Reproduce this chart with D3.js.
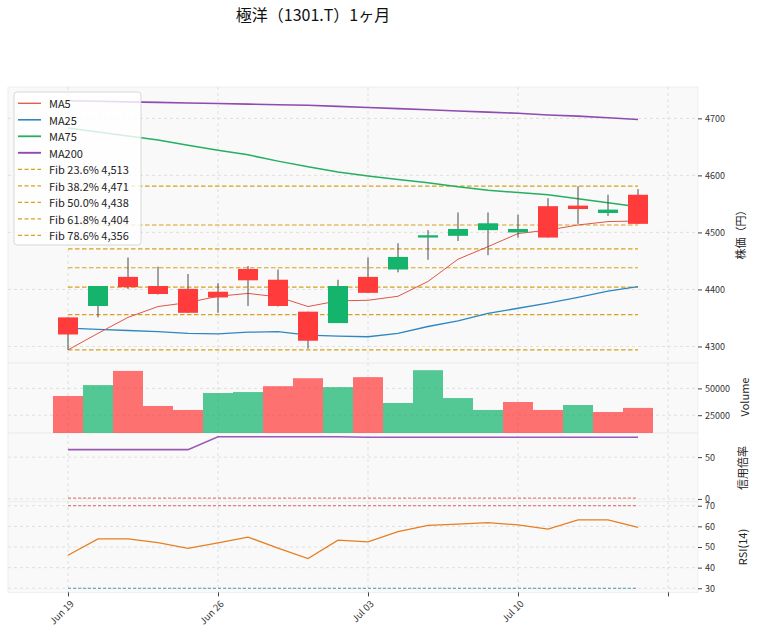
<!DOCTYPE html>
<html>
<head>
<meta charset="utf-8">
<script src="https://cdn.jsdelivr.net/npm/d3@7"></script>
<style>
  body { margin: 0; background: #fff; }
  svg { display: block; font-family: "Noto Sans CJK JP", "Noto Sans", sans-serif; }
</style>
</head>
<body>
<div id="chart"></div>
<script>
// 極洋 (1301.T) daily candles, last ~1 month
const xTickIdx = [0, 5, 10, 15, 20]
const xTickLabels = ["Jun 19", "Jun 26", "Jul 03", "Jul 10", ""]

const open  = [4351, 4371, 4422, 4406, 4401, 4396, 4436, 4417, 4361, 4341, 4422, 4435, 4491, 4494, 4504, 4500, 4546, 4547, 4534, 4566]
const high  = [4351, 4406, 4456, 4440, 4427, 4411, 4441, 4435, 4361, 4417, 4456, 4481, 4504, 4535, 4535, 4531, 4560, 4581, 4566, 4576]
const low   = [4294, 4351, 4401, 4391, 4359, 4359, 4371, 4370, 4296, 4341, 4394, 4430, 4452, 4485, 4460, 4491, 4491, 4515, 4529, 4515]
const close = [4321, 4406, 4404, 4392, 4359, 4386, 4416, 4371, 4310, 4406, 4394, 4457, 4495, 4506, 4516, 4506, 4491, 4541, 4540, 4515]

const volume = [42900, 53100, 66300, 33600, 29900, 45700, 46600, 52100, 59500, 51200, 60500, 36400, 67000, 41000, 29900, 37300, 29900, 34500, 28000, 31800]

const ma5   = [4294, 4323, 4351, 4370, 4377, 4388, 4393, 4387, 4370, 4380, 4381, 4388, 4414, 4453, 4475, 4498, 4504, 4513, 4519, 4520]
const ma25  = [4332, 4330, 4328, 4326, 4323, 4322, 4325, 4326, 4320, 4318, 4317, 4323, 4335, 4345, 4358, 4367, 4376, 4386, 4397, 4405]
const ma75  = [4683, 4676, 4669, 4662, 4653, 4644, 4636, 4625, 4615, 4606, 4599, 4593, 4587, 4580, 4574, 4570, 4566, 4559, 4552, 4545]
const ma200 = [4731, 4730, 4729, 4728, 4727, 4726, 4725, 4724, 4723, 4721, 4719, 4717, 4715, 4713, 4711, 4709, 4706, 4704, 4701, 4698]

const fibHigh = 4581
const fibLow = 4294
const fibPct = ["23.6%", "38.2%", "50.0%", "61.8%", "78.6%"]
const fibVals = [4513, 4471, 4438, 4404, 4356]

const credit = [59, 59, 59, 59, 59, 74.5, 74.5, 74.5, 74.5, 74.5, 73.8, 73.8, 73.8, 73.8, 73.8, 73.8, 73.8, 73.8, 73.8, 73.8]
const creditRef = 1

const rsi = [46, 53.9, 53.9, 52.1, 49.3, 52, 54.8, 49.5, 44.4, 53.3, 52.5, 57.5, 60.5, 61.1, 61.8, 60.7, 58.7, 63.1, 63.1, 59.5]
const rsiHi = 70
const rsiLo = 30

const priceTicks = [4300, 4400, 4500, 4600, 4700]
const volTicks = [25000, 50000]
const creditTicks = [0, 50]
const rsiTicks = [30, 40, 50, 60, 70]

const W = 758, H = 633
const left = 8, right = 698
const RED = "#ff3b3b", GREEN = "#14b46c"
const idx = d3.range(close.length)

const svg = d3.select("#chart").append("svg").attr("width", W).attr("height", H)

const x = d3.scaleLinear().domain([-2, 21]).range([left, right])

const panels = {
    price:  { top: 87,    bottom: 363 },
    vol:    { top: 363,   bottom: 433 },
    credit: { top: 433,   bottom: 501.6 },
    rsi:    { top: 501.6, bottom: 592.4 }
}

const yPrice = d3.scaleLinear().domain([4271, 4755]).range([panels.price.bottom, panels.price.top])
const yVol = d3.scaleLinear().domain([0.3 * d3.min(volume), 1.1 * d3.max(volume)]).range([panels.vol.bottom, panels.vol.top])
const yCredit = d3.scaleLinear().domain([-3.2, 78.9]).range([panels.credit.bottom, panels.credit.top])
const yRsi = d3.scaleLinear().domain([28, 72]).range([panels.rsi.bottom, panels.rsi.top])

// backgrounds
Object.values(panels).forEach(p => {
    svg.append("rect")
        .attr("x", left).attr("y", p.top)
        .attr("width", right - left).attr("height", p.bottom - p.top)
        .attr("fill", "#f9f9f9")
        .attr("stroke", "#ebebeb").attr("stroke-width", 0.8)
})

// grid
const grid = svg.append("g").attr("stroke", "#d9d9d9").attr("stroke-width", 0.8).attr("stroke-dasharray", "3,3")
xTickIdx.forEach(i => {
    grid.append("line").attr("x1", x(i)).attr("x2", x(i)).attr("y1", panels.price.top).attr("y2", panels.rsi.bottom)
})
const hGrid = (scale, ticks) => ticks.forEach(t => {
    grid.append("line").attr("x1", left).attr("x2", right).attr("y1", scale(t)).attr("y2", scale(t))
})
hGrid(yPrice, priceTicks)
hGrid(yVol, volTicks)
hGrid(yCredit, creditTicks)
hGrid(yRsi, rsiTicks)

// fib lines
const fibAll = [fibHigh, ...fibVals, fibLow]
svg.append("g").selectAll("line").data(fibAll).join("line")
    .attr("x1", x(0)).attr("x2", x(idx.length - 1))
    .attr("y1", d => yPrice(d)).attr("y2", d => yPrice(d))
    .attr("stroke", "#d8a21c").attr("stroke-width", 1.2).attr("stroke-dasharray", "4.5,2.5")

// MA lines
const lineP = arr => d3.line().x((d, i) => x(i)).y(d => yPrice(d))(arr)
const maDefs = [
    { name: "MA5", data: ma5, color: "#e05545", width: 1 },
    { name: "MA25", data: ma25, color: "#2f86c0", width: 1.3 },
    { name: "MA75", data: ma75, color: "#26ae62", width: 1.5 },
    { name: "MA200", data: ma200, color: "#8e4bb0", width: 1.6 }
]
maDefs.slice().reverse().forEach(m => {
    svg.append("path").attr("d", lineP(m.data))
        .attr("fill", "none").attr("stroke", m.color).attr("stroke-width", m.width)
})

// candles
const candleW = 20
const cg = svg.append("g")
cg.selectAll("line").data(idx).join("line")
    .attr("x1", i => x(i)).attr("x2", i => x(i))
    .attr("y1", i => yPrice(high[i])).attr("y2", i => yPrice(low[i]))
    .attr("stroke", "#4a4a4a").attr("stroke-width", 1)
cg.selectAll("rect").data(idx).join("rect")
    .attr("x", i => x(i) - candleW / 2)
    .attr("width", candleW)
    .attr("y", i => yPrice(Math.max(open[i], close[i])))
    .attr("height", i => Math.max(1, Math.abs(yPrice(open[i]) - yPrice(close[i]))))
    .attr("fill", i => close[i] >= open[i] ? GREEN : RED)

// volume, coloured by change from previous close
const volUp = i => i === 0 ? close[0] >= open[0] : close[i] >= close[i - 1]
const bw = x(1) - x(0)
svg.append("g").selectAll("rect").data(idx).join("rect")
    .attr("x", i => x(i) - bw / 2)
    .attr("width", bw)
    .attr("y", i => yVol(volume[i]))
    .attr("height", i => yVol.range()[0] - yVol(volume[i]))
    .attr("fill", i => volUp(i) ? GREEN : RED)
    .attr("fill-opacity", 0.72)

// credit ratio
svg.append("line")
    .attr("x1", x(0)).attr("x2", x(idx.length - 1))
    .attr("y1", yCredit(creditRef)).attr("y2", yCredit(creditRef))
    .attr("stroke", "#d9534f").attr("stroke-width", 0.9).attr("stroke-dasharray", "3,2")
svg.append("path")
    .attr("d", d3.line().x((d, i) => x(i)).y(d => yCredit(d))(credit))
    .attr("fill", "none").attr("stroke", "#9b59b6").attr("stroke-width", 1.6)

// RSI
const refLines = [{ v: rsiHi, c: "#d9534f" }, { v: rsiLo, c: "#3a8fb0" }]
refLines.forEach(r => {
    svg.append("line")
        .attr("x1", x(0)).attr("x2", x(idx.length - 1))
        .attr("y1", yRsi(r.v)).attr("y2", yRsi(r.v))
        .attr("stroke", r.c).attr("stroke-width", 0.9).attr("stroke-dasharray", "3,2")
})
svg.append("path")
    .attr("d", d3.line().x((d, i) => x(i)).y(d => yRsi(d))(rsi))
    .attr("fill", "none").attr("stroke", "#e67e22").attr("stroke-width", 1.3)

// right axes
const rightAxis = (scale, ticks) => {
    const g = svg.append("g").attr("transform", `translate(${right},0)`)
        .call(d3.axisRight(scale).tickValues(ticks).tickSize(4).tickPadding(3).tickFormat(d3.format("d")))
    g.select(".domain").remove()
    g.selectAll("line").attr("stroke", "#444")
    g.selectAll("text").attr("font-size", 9).attr("fill", "#333")
        .attr("font-family", "'Noto Sans CJK JP', sans-serif")
}
rightAxis(yPrice, priceTicks)
rightAxis(yVol, volTicks)
rightAxis(yCredit, creditTicks)
rightAxis(yRsi, rsiTicks)

// x axis
const xg = svg.append("g").attr("transform", `translate(0,${panels.rsi.bottom})`)
    .call(d3.axisBottom(x).tickValues(xTickIdx).tickSize(4).tickFormat((d, i) => xTickLabels[i]))
xg.select(".domain").remove()
xg.selectAll("line").attr("stroke", "#444")
xg.selectAll("text")
    .attr("font-size", 9.5).attr("fill", "#333")
    .attr("font-family", "'Noto Sans CJK JP', sans-serif")
    .attr("text-anchor", "end")
    .attr("dy", null).attr("y", 0)
    .attr("transform", "translate(6,12) rotate(-45)")

// axis titles
const yTitle = (label, cx, cy) => svg.append("text")
    .attr("transform", `translate(${cx},${cy}) rotate(-90)`)
    .attr("text-anchor", "middle").attr("dominant-baseline", "central")
    .attr("font-size", 11).attr("fill", "#222")
    .text(label)
yTitle("株価（円）", 740, 232)
yTitle("Volume", 744, 397)
yTitle("信用倍率", 742, 468)
yTitle("RSI(14)", 742, 547)

// title
svg.append("text")
    .attr("x", 313).attr("y", 21)
    .attr("text-anchor", "middle")
    .attr("font-size", 16).attr("fill", "#111")
    .text("極洋（1301.T）1ヶ月")

// legend
const legItems = [
    ...maDefs.map(m => ({ label: m.name, color: m.color, width: m.width + 0.3, dash: null })),
    ...fibVals.map((v, i) => ({ label: `Fib ${fibPct[i]} ${d3.format(",")(v)}`, color: "#d8a21c", width: 1.2, dash: "4,2.5" }))
]
const leg = svg.append("g").attr("transform", "translate(14,92)")
leg.append("rect")
    .attr("width", 127).attr("height", 153).attr("rx", 3)
    .attr("fill", "#fff").attr("fill-opacity", 0.8)
    .attr("stroke", "#cfcfcf").attr("stroke-width", 0.8)
const rowH = 16.5
legItems.forEach((d, i) => {
    const cy = 11.3 + i * rowH
    leg.append("line")
        .attr("x1", 4).attr("x2", 27).attr("y1", cy).attr("y2", cy)
        .attr("stroke", d.color).attr("stroke-width", d.width)
        .attr("stroke-dasharray", d.dash)
    leg.append("text")
        .attr("x", 35).attr("y", cy).attr("dominant-baseline", "central")
        .attr("font-size", 11).attr("fill", "#222")
        .text(d.label)
})
</script>
</body>
</html>
